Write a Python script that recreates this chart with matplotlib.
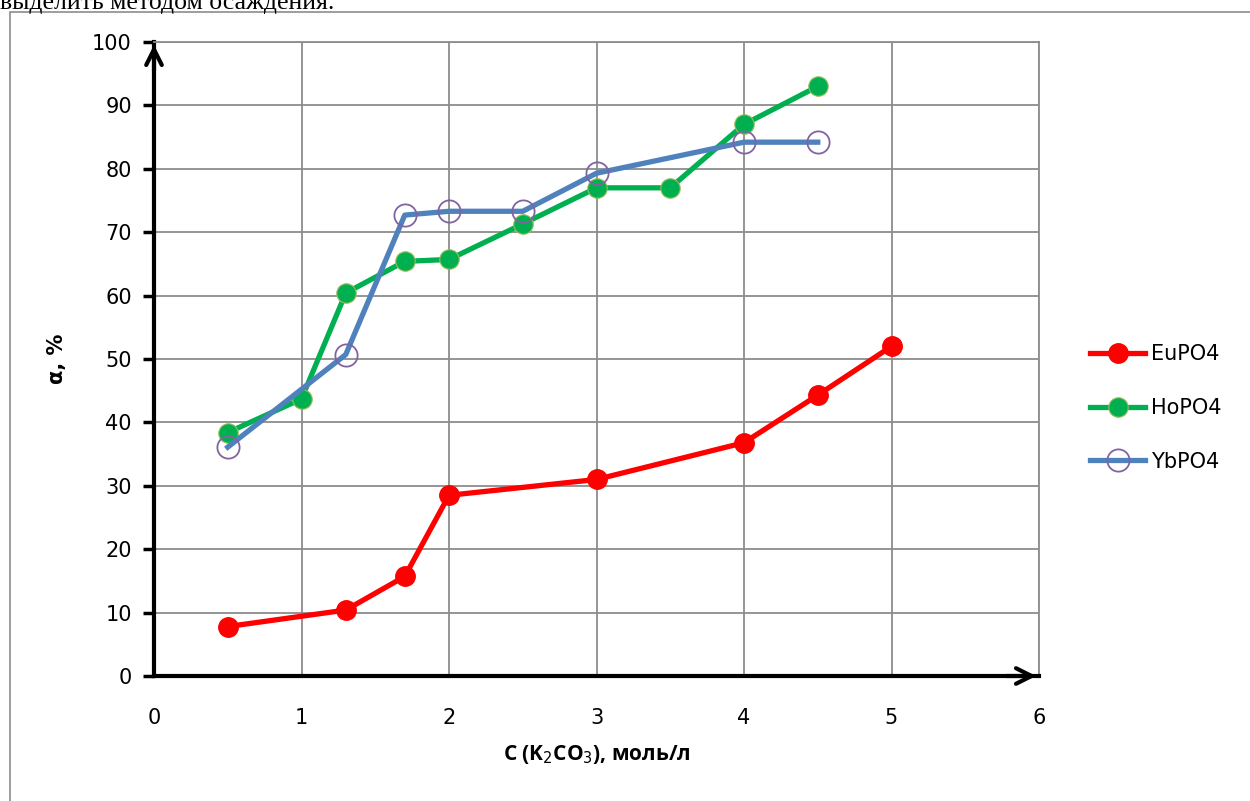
import matplotlib.pyplot as plt
from matplotlib.patches import Rectangle

# данные с графика
eu_x = [0.5, 1.3, 1.7, 2, 3, 4, 4.5, 5]
eu_y = [7.8, 10.4, 15.7, 28.5, 31.0, 36.8, 44.3, 52.0]

ho_x = [0.5, 1, 1.3, 1.7, 2, 2.5, 3, 3.5, 4, 4.5]
ho_y = [38.4, 43.7, 60.4, 65.4, 65.7, 71.3, 77.0, 77.0, 87.0, 93.0]

yb_x = [0.5, 1.3, 1.7, 2, 2.5, 3, 4, 4.5]
yb_y = [36.1, 50.7, 72.7, 73.3, 73.3, 79.3, 84.2, 84.2]

x_ticks = [0, 1, 2, 3, 4, 5, 6]
y_ticks = list(range(0, 101, 10))

fig = plt.figure(figsize=(12.5, 8.01), dpi=100)
fig.patches.append(Rectangle((10 / 1250, -0.01), 1.0, 1 - 12 / 801 + 0.01,
                             transform=fig.transFigure, fill=False,
                             edgecolor='#8c8c8c', linewidth=1.2))
fig.text(0.0, 1.0 + 0.010, "выделить методом осаждения.", family='Liberation Serif',
         fontsize=18.5, va='top', ha='left')

ax = fig.add_axes([154 / 1250, 1 - 676 / 801, (1039 - 154) / 1250, (676 - 42) / 801])

ax.plot(eu_x, eu_y, color='#ff0000', linewidth=3.8, marker='o', markersize=14,
        markerfacecolor='#ff0000', markeredgecolor='#ff0000', label='EuPO4', zorder=3)
ax.plot(ho_x, ho_y, color='#00b050', linewidth=3.8, marker='o', markersize=14,
        markerfacecolor='#00b050', markeredgecolor='#9bbb59', markeredgewidth=0.8,
        label='HoPO4', zorder=3)
ax.plot(yb_x, yb_y, color='#4f81bd', linewidth=3.8, marker='o', markersize=16,
        markerfacecolor='none', markeredgecolor='#8064a2', markeredgewidth=1.3,
        label='YbPO4', zorder=4)

ax.set_xlim(0, 6)
ax.set_ylim(0, 100)
ax.set_xticks(x_ticks)
ax.set_yticks(y_ticks)
ax.grid(True, color='#8c8c8c', linewidth=1.3)
ax.set_axisbelow(True)

for s in ['top', 'right']:
    ax.spines[s].set_color('#8c8c8c')
    ax.spines[s].set_linewidth(1.3)
for s in ['left', 'bottom']:
    ax.spines[s].set_color('black')
    ax.spines[s].set_linewidth(3)

ax.tick_params(axis='y', direction='out', length=8, width=2.5, labelsize=15, pad=8)
ax.tick_params(axis='x', direction='out', length=0, labelsize=15, pad=23)
for lab in ax.get_yticklabels() + ax.get_xticklabels():
    lab.set_family('DejaVu Sans')

# стрелки на осях
ax.annotate('', xy=(0, 1.0), xytext=(0, 0.95), xycoords='axes fraction',
            arrowprops=dict(arrowstyle='->', color='black', lw=3, mutation_scale=28),
            annotation_clip=False)
ax.annotate('', xy=(1.0, 0), xytext=(0.96, 0), xycoords='axes fraction',
            arrowprops=dict(arrowstyle='->', color='black', lw=3, mutation_scale=28),
            annotation_clip=False)

ax.set_xlabel('C (K$_2$CO$_3$), моль/л', fontsize=15, fontweight='bold',
              family='Open Sans', labelpad=11)
ax.set_ylabel('α, %', fontsize=15, fontweight='bold', family='DejaVu Sans', labelpad=18)

leg = ax.legend(loc='center left', bbox_to_anchor=(1.037, 0.4227), frameon=False,
                fontsize=15, handlelength=2.6, labelspacing=1.62, handletextpad=0.3)
for t in leg.get_texts():
    t.set_family('DejaVu Sans')

fig.savefig('out.png', dpi=100)
